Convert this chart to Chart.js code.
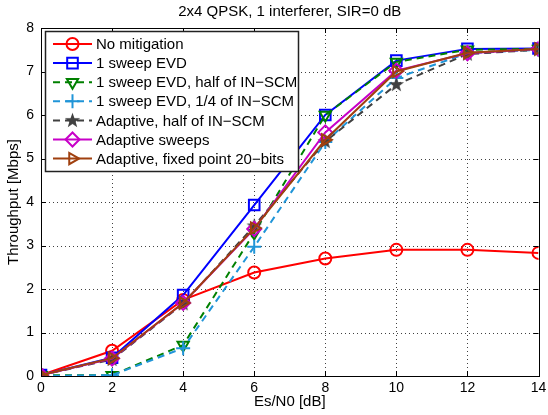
<!DOCTYPE html>
<html>
<head>
<meta charset="utf-8">
<script src="https://cdn.jsdelivr.net/npm/chart.js@4/dist/chart.umd.min.js"></script>
<style>
    body { margin: 0; background: #fff; }
    #wrap { width: 548px; height: 415px; }
</style>
</head>
<body>
<div id="wrap"><canvas id="chart" width="548" height="415"></canvas></div>
<script>
const snr = [0, 2, 4, 6, 8, 10, 12, 14];
const noMitigation = [0.02, 0.58, 1.75, 2.38, 2.70, 2.90, 2.90, 2.83];
const sweepEvd = [0.02, 0.42, 1.86, 3.93, 6.00, 7.25, 7.52, 7.53];
const sweepEvdHalf = [0.02, 0.02, 0.71, 3.29, 6.00, 7.22, 7.50, 7.52];
const sweepEvdQuarter = [0.00, 0.02, 0.64, 2.97, 5.38, 6.85, 7.42, 7.50];
const adaptiveHalf = [0.02, 0.38, 1.66, 3.45, 5.39, 6.70, 7.40, 7.50];
const adaptiveSweeps = [0.02, 0.40, 1.68, 3.38, 5.60, 7.02, 7.42, 7.52];
const adaptiveFixed = [0.02, 0.41, 1.68, 3.40, 5.43, 7.00, 7.43, 7.52];

const chartTitle = '2x4 QPSK, 1 interferer, SIR=0 dB';
const FONT = 'Liberation Sans, Arial, Helvetica, sans-serif';

// filled pentagram marker
function makeStar(color) {
    const c = document.createElement('canvas');
    c.width = 17; c.height = 17;
    const g = c.getContext('2d');
    g.fillStyle = color;
    g.beginPath();
    for (let i = 0; i < 10; i++) {
        const r = i % 2 === 0 ? 8 : 3.3;
        const a = -Math.PI / 2 + i * Math.PI / 5;
        const px = 8.5 + r * Math.cos(a), py = 8.8 + r * Math.sin(a);
        if (i === 0) g.moveTo(px, py); else g.lineTo(px, py);
    }
    g.closePath();
    g.fill();
    return c;
}

function series(label, values, color, style, opts) {
    return Object.assign({
        label: label,
        data: values.map((v, i) => ({ x: snr[i], y: v })),
        borderColor: color,
        backgroundColor: 'transparent',
        pointBorderColor: color,
        pointBackgroundColor: 'transparent',
        borderWidth: 2,
        pointBorderWidth: 2,
        pointRadius: 6.5,
        pointStyle: style,
        tension: 0
    }, opts || {});
}

const datasets = [
    series('No mitigation', noMitigation, '#ff0000', 'circle', { pointRadius: 6 }),
    series('1 sweep EVD', sweepEvd, '#0000ff', 'rect', { pointRadius: 7.5 }),
    series('1 sweep EVD, half of IN\u2212SCM', sweepEvdHalf, '#008000', 'triangle',
        { borderDash: [7, 5], pointRotation: 180 }),
    series('1 sweep EVD, 1/4 of IN\u2212SCM', sweepEvdQuarter, '#2095d8', 'cross',
        { borderDash: [7, 5], pointRadius: 7 }),
    series('Adaptive, half of IN\u2212SCM', adaptiveHalf, '#404040', makeStar('#404040'),
        { borderDash: [7, 5] }),
    series('Adaptive sweeps', adaptiveSweeps, '#c800c8', 'rectRot', { pointRadius: 7 }),
    series('Adaptive, fixed point 20\u2212bits', adaptiveFixed, '#a0400f', 'triangle',
        { pointRotation: 90 })
];
// later series drawn on top
datasets.forEach((d, i) => { d.order = datasets.length - i; });

// dotted grid under the data
const dottedGrid = {
    id: 'dottedGrid',
    beforeDatasetsDraw(chart) {
        const ctx = chart.ctx;
        const a = chart.chartArea;
        const xs = chart.scales.x, ys = chart.scales.y;
        ctx.save();
        ctx.strokeStyle = 'rgba(0,0,0,0.75)';
        ctx.lineWidth = 1;
        ctx.setLineDash([1, 3]);
        ctx.beginPath();
        xs.ticks.forEach(t => {
            const px = Math.round(xs.getPixelForValue(t.value)) + 0.5;
            ctx.moveTo(px, a.bottom); ctx.lineTo(px, a.top);
        });
        ys.ticks.forEach(t => {
            const py = Math.round(ys.getPixelForValue(t.value)) + 0.5;
            ctx.moveTo(a.left, py); ctx.lineTo(a.right, py);
        });
        ctx.stroke();
        ctx.restore();
    }
};

// box, inward ticks, title over the axes and the legend inside them
const frame = {
    id: 'frame',
    afterDatasetsDraw(chart) {
        const ctx = chart.ctx;
        const a = chart.chartArea;
        const xs = chart.scales.x, ys = chart.scales.y;
        ctx.save();
        ctx.strokeStyle = '#000';
        ctx.lineWidth = 1;
        ctx.setLineDash([]);
        ctx.beginPath();
        xs.ticks.forEach(t => {
            const px = Math.round(xs.getPixelForValue(t.value)) + 0.5;
            ctx.moveTo(px, a.bottom); ctx.lineTo(px, a.bottom - 5);
            ctx.moveTo(px, a.top); ctx.lineTo(px, a.top + 5);
        });
        ys.ticks.forEach(t => {
            const py = Math.round(ys.getPixelForValue(t.value)) + 0.5;
            ctx.moveTo(a.left, py); ctx.lineTo(a.left + 5, py);
            ctx.moveTo(a.right, py); ctx.lineTo(a.right - 5, py);
        });
        ctx.stroke();
        ctx.strokeRect(Math.round(a.left) + 0.5, Math.round(a.top) + 0.5,
            Math.round(a.right - a.left), Math.round(a.bottom - a.top));

        ctx.fillStyle = '#000';
        ctx.font = '15px ' + FONT;
        ctx.textAlign = 'center';
        ctx.textBaseline = 'middle';
        ctx.fillText(chartTitle, (a.left + a.right) / 2, 12);

        // legend
        const lx = 45.5, ly = 31.5, lw = 253, lh = 140;
        ctx.fillStyle = '#fff';
        ctx.fillRect(lx, ly, lw, lh);
        ctx.lineWidth = 1.5;
        ctx.strokeStyle = '#222';
        ctx.strokeRect(lx, ly, lw, lh);
        ctx.textAlign = 'left';
        chart.data.datasets.forEach((d, i) => {
            const y = 44 + i * 19.1;
            ctx.strokeStyle = d.borderColor;
            ctx.lineWidth = 2;
            ctx.setLineDash(d.borderDash || []);
            ctx.beginPath();
            ctx.moveTo(53, y); ctx.lineTo(92, y);
            ctx.stroke();
            ctx.setLineDash([]);
            ctx.fillStyle = 'transparent';
            Chart.helpers.drawPoint(ctx, {
                pointStyle: d.pointStyle,
                radius: d.pointRadius,
                rotation: d.pointRotation || 0,
                borderWidth: 2
            }, 72.5, y);
            ctx.fillStyle = '#000';
            ctx.fillText(d.label, 96, y + 1);
        });
        ctx.restore();
    }
};

const config = {
    type: 'line',
    data: { datasets },
    options: {
        responsive: false,
        animation: false,
        layout: { padding: { left: 0, right: 2, top: 28, bottom: 0 } },
        plugins: {
            legend: { display: false },
            tooltip: { enabled: false },
            title: { display: false }
        },
        scales: {
            x: {
                type: 'linear',
                min: 0,
                max: 14,
                ticks: {
                    stepSize: 2,
                    color: '#000',
                    padding: 4,
                    font: { family: FONT, size: 14 }
                },
                grid: { display: false, drawTicks: false },
                border: { display: false },
                title: {
                    display: true,
                    text: 'Es/N0 [dB]',
                    color: '#000',
                    font: { family: FONT, size: 15 },
                    padding: { top: 0, bottom: 4 }
                },
                afterFit(scale) {
                    scale.height = 39;
                    scale.paddingLeft = 0;
                    scale.paddingRight = 0;
                }
            },
            y: {
                type: 'linear',
                min: 0,
                max: 8,
                ticks: {
                    stepSize: 1,
                    color: '#000',
                    padding: 7,
                    font: { family: FONT, size: 14 }
                },
                grid: { display: false, drawTicks: false },
                border: { display: false },
                title: {
                    display: true,
                    text: 'Throughput [Mbps]',
                    color: '#000',
                    font: { family: FONT, size: 15 },
                    padding: { top: 5, bottom: 0 }
                },
                afterFit(scale) {
                    scale.width = 41;
                    scale.paddingTop = 0;
                    scale.paddingBottom = 0;
                }
            }
        }
    },
    plugins: [dottedGrid, frame]
};

var myChart = new Chart(document.getElementById('chart'), config);
</script>
</body>
</html>
